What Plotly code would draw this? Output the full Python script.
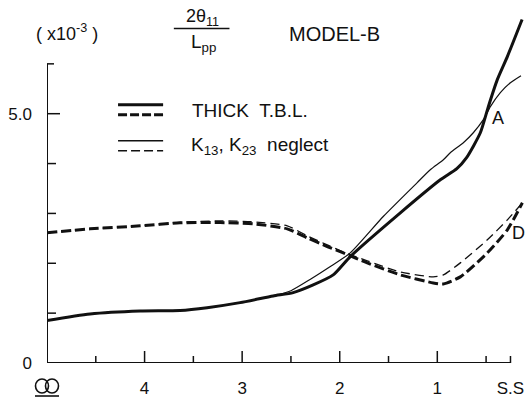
import plotly.graph_objects as go

# ---- data (station, value x10^-3) ----
thick_solid_x = [5.0, 4.559, 4.046, 3.636, 3.359, 3.021, 2.682, 2.477, 2.272, 2.067, 1.892, 1.379, 0.969, 0.80, 0.70, 0.559, 0.477, 0.385, 0.282, 0.131]
thick_solid_y = [0.853, 0.984, 1.044, 1.054, 1.110, 1.211, 1.345, 1.412, 1.566, 1.767, 2.135, 3.012, 3.675, 3.90, 4.12, 4.618, 5.141, 5.683, 6.145, 6.888]

thin_solid_x = [5.0, 4.559, 4.046, 3.636, 3.359, 3.021, 2.682, 2.50, 2.30, 2.10, 1.892, 1.554, 1.208, 1.072, 0.938, 0.867, 0.733, 0.631, 0.528, 0.456, 0.354, 0.251, 0.142]
thin_solid_y = [0.853, 0.984, 1.044, 1.054, 1.110, 1.211, 1.345, 1.45, 1.68, 1.93, 2.209, 2.938, 3.614, 3.876, 4.076, 4.217, 4.418, 4.618, 4.880, 5.141, 5.422, 5.622, 5.763]

thick_dash_x = [5.0, 4.559, 4.046, 3.636, 3.226, 2.887, 2.538, 2.333, 2.128, 1.964, 1.718, 1.379, 1.041, 0.938, 0.764, 0.487, 0.282, 0.128]
thick_dash_y = [2.610, 2.691, 2.751, 2.811, 2.817, 2.791, 2.691, 2.510, 2.335, 2.209, 2.008, 1.767, 1.606, 1.586, 1.727, 2.209, 2.671, 3.213]

thin_dash_x = [5.0, 4.559, 4.046, 3.636, 3.226, 2.887, 2.538, 2.333, 2.128, 1.964, 1.718, 1.379, 1.041, 0.938, 0.764, 0.487, 0.282, 0.128]
thin_dash_y = [2.610, 2.691, 2.751, 2.821, 2.851, 2.831, 2.751, 2.550, 2.369, 2.229, 2.048, 1.827, 1.727, 1.767, 2.008, 2.470, 2.871, 3.213]

x_tickvals = [4, 3, 2, 1, 0.25]
x_ticktext = ["4", "3", "2", "1", "S.S"]
y_tickvals = [0, 5]
y_ticktext = ["0", "5.0"]

x_minor = [4.5, 3.5, 2.5, 1.5, 0.5, 0.25]
x_major = [4, 3, 2, 1]
y_minor = [1, 2, 3, 4]

FONT = "Liberation Sans, Arial, sans-serif"
BLACK = "#111111"

W, H = 532, 402
ML, MR, MT, MB = 47, 2, 9, 39

fig = go.Figure()
fig.add_trace(go.Scatter(x=thin_solid_x, y=thin_solid_y, mode="lines", hoverinfo="skip",
                         line=dict(color=BLACK, width=1.2, shape="spline", smoothing=0.6)))
fig.add_trace(go.Scatter(x=thin_dash_x, y=thin_dash_y, mode="lines", hoverinfo="skip",
                         line=dict(color=BLACK, width=1.3, dash="9px,5px", shape="spline", smoothing=0.6)))
fig.add_trace(go.Scatter(x=thick_solid_x, y=thick_solid_y, mode="lines", hoverinfo="skip",
                         line=dict(color=BLACK, width=3, shape="spline", smoothing=0.6)))
fig.add_trace(go.Scatter(x=thick_dash_x, y=thick_dash_y, mode="lines", hoverinfo="skip",
                         line=dict(color=BLACK, width=3, dash="10px,4px", shape="spline", smoothing=0.6)))

shapes = []
shapes.append(dict(type="line", xref="x", yref="y", x0=5, x1=5, y0=0, y1=6, line=dict(color=BLACK, width=2)))
shapes.append(dict(type="line", xref="x", yref="y", x0=5, x1=0.25, y0=0, y1=0, line=dict(color=BLACK, width=2)))
px_x = 1 / 97.5
px_y = 1 / 49.8
for v in y_minor:
    shapes.append(dict(type="line", xref="x", yref="y", x0=5, x1=5 - 9 * px_x, y0=v, y1=v, line=dict(color=BLACK, width=1.5)))
shapes.append(dict(type="line", xref="x", yref="y", x0=5, x1=5 - 13 * px_x, y0=5, y1=5, line=dict(color=BLACK, width=1.5)))
shapes.append(dict(type="line", xref="x", yref="y", x0=5, x1=5 - 7 * px_x, y0=6, y1=6, line=dict(color=BLACK, width=1.5)))
for v in x_minor:
    shapes.append(dict(type="line", xref="x", yref="y", x0=v, x1=v, y0=0, y1=7 * px_y, line=dict(color=BLACK, width=1.5)))
for v in x_major:
    shapes.append(dict(type="line", xref="x", yref="y", x0=v, x1=v, y0=0, y1=12 * px_y, line=dict(color=BLACK, width=1.5)))
# legend samples
shapes.append(dict(type="line", xref="x", yref="y", x0=4.272, x1=3.810, y0=5.181, y1=5.181, line=dict(color=BLACK, width=3)))
shapes.append(dict(type="line", xref="x", yref="y", x0=4.272, x1=3.810, y0=4.980, y1=4.980, line=dict(color=BLACK, width=3, dash="9px,3px")))
shapes.append(dict(type="line", xref="x", yref="y", x0=4.272, x1=3.810, y0=4.458, y1=4.458, line=dict(color=BLACK, width=1.3)))
shapes.append(dict(type="line", xref="x", yref="y", x0=4.272, x1=3.810, y0=4.257, y1=4.257, line=dict(color=BLACK, width=1.3, dash="9px,4px")))
# fraction bar
shapes.append(dict(type="line", xref="x", yref="y", x0=3.70, x1=3.13, y0=6.71, y1=6.71, line=dict(color=BLACK, width=1.5)))

# midship symbol below station 5 (paper coords, outside plot area)
pw = W - ML - MR
ph = H - MT - MB
def px2paper(px, py):
    return (px - ML) / pw, (H - MB - py) / ph
for cx in (42, 52):
    x0, y0 = px2paper(cx - 6.5, 379)
    x1, y1 = px2paper(cx + 6.5, 393)
    shapes.append(dict(type="circle", xref="paper", yref="paper", x0=x0, x1=x1, y0=y0, y1=y1,
                       line=dict(color=BLACK, width=1.6)))
ux0, uy = px2paper(35, 396)
ux1, _ = px2paper(59, 396)
shapes.append(dict(type="line", xref="paper", yref="paper", x0=ux0, x1=ux1, y0=uy, y1=uy,
                   line=dict(color=BLACK, width=1.6)))

annotations = [
    dict(x=4.8, y=6.63, text="( x10<sup>-3</sup> )", showarrow=False, xref="x", yref="y",
         font=dict(size=18, family=FONT, color=BLACK)),
    dict(x=3.41, y=6.92, text="2\u03b8<sub>11</sub>", showarrow=False, xref="x", yref="y",
         font=dict(size=18, family=FONT, color=BLACK)),
    dict(x=3.40, y=6.42, text="L<sub>pp</sub>", showarrow=False, xref="x", yref="y",
         font=dict(size=19, family=FONT, color=BLACK)),
    dict(x=2.056, y=6.59, text="MODEL-B", showarrow=False, xref="x", yref="y",
         font=dict(size=20, family=FONT, color=BLACK)),
    dict(x=3.533, y=5.066, text="THICK  T.B.L.", showarrow=False, xref="x", yref="y", xanchor="left",
         font=dict(size=19, family=FONT, color=BLACK)),
    dict(x=3.544, y=4.357, text="K<sub>13</sub>, K<sub>23</sub>  neglect", showarrow=False, xref="x", yref="y", xanchor="left",
         font=dict(size=19, family=FONT, color=BLACK)),
    dict(x=0.374, y=4.92, text="A", showarrow=False, xref="x", yref="y",
         font=dict(size=18, family=FONT, color=BLACK)),
    dict(x=0.169, y=2.61, text="D", showarrow=False, xref="x", yref="y",
         font=dict(size=18, family=FONT, color=BLACK)),
]

fig.update_layout(
    width=W, height=H,
    margin=dict(l=ML, r=MR, t=MT, b=MB, autoexpand=False),
    paper_bgcolor="white", plot_bgcolor="white",
    showlegend=False, hovermode=False,
    shapes=shapes, annotations=annotations,
    font=dict(family=FONT, color=BLACK),
    xaxis=dict(range=[5, 0.05], showgrid=False, zeroline=False, showline=False, ticks="",
               automargin=False,
               tickvals=x_tickvals, ticktext=x_ticktext, ticklabelstandoff=13,
               tickfont=dict(size=17, family=FONT, color=BLACK)),
    yaxis=dict(range=[0, 7.1], showgrid=False, zeroline=False, showline=False, ticks="",
               automargin=False,
               tickvals=y_tickvals, ticktext=y_ticktext, ticklabelstandoff=14,
               tickfont=dict(size=17, family=FONT, color=BLACK)),
)

fig.write_html("out.html", config={"displayModeBar": False},
               post_script="document.body.style.margin='0';document.body.style.overflow='hidden';")
